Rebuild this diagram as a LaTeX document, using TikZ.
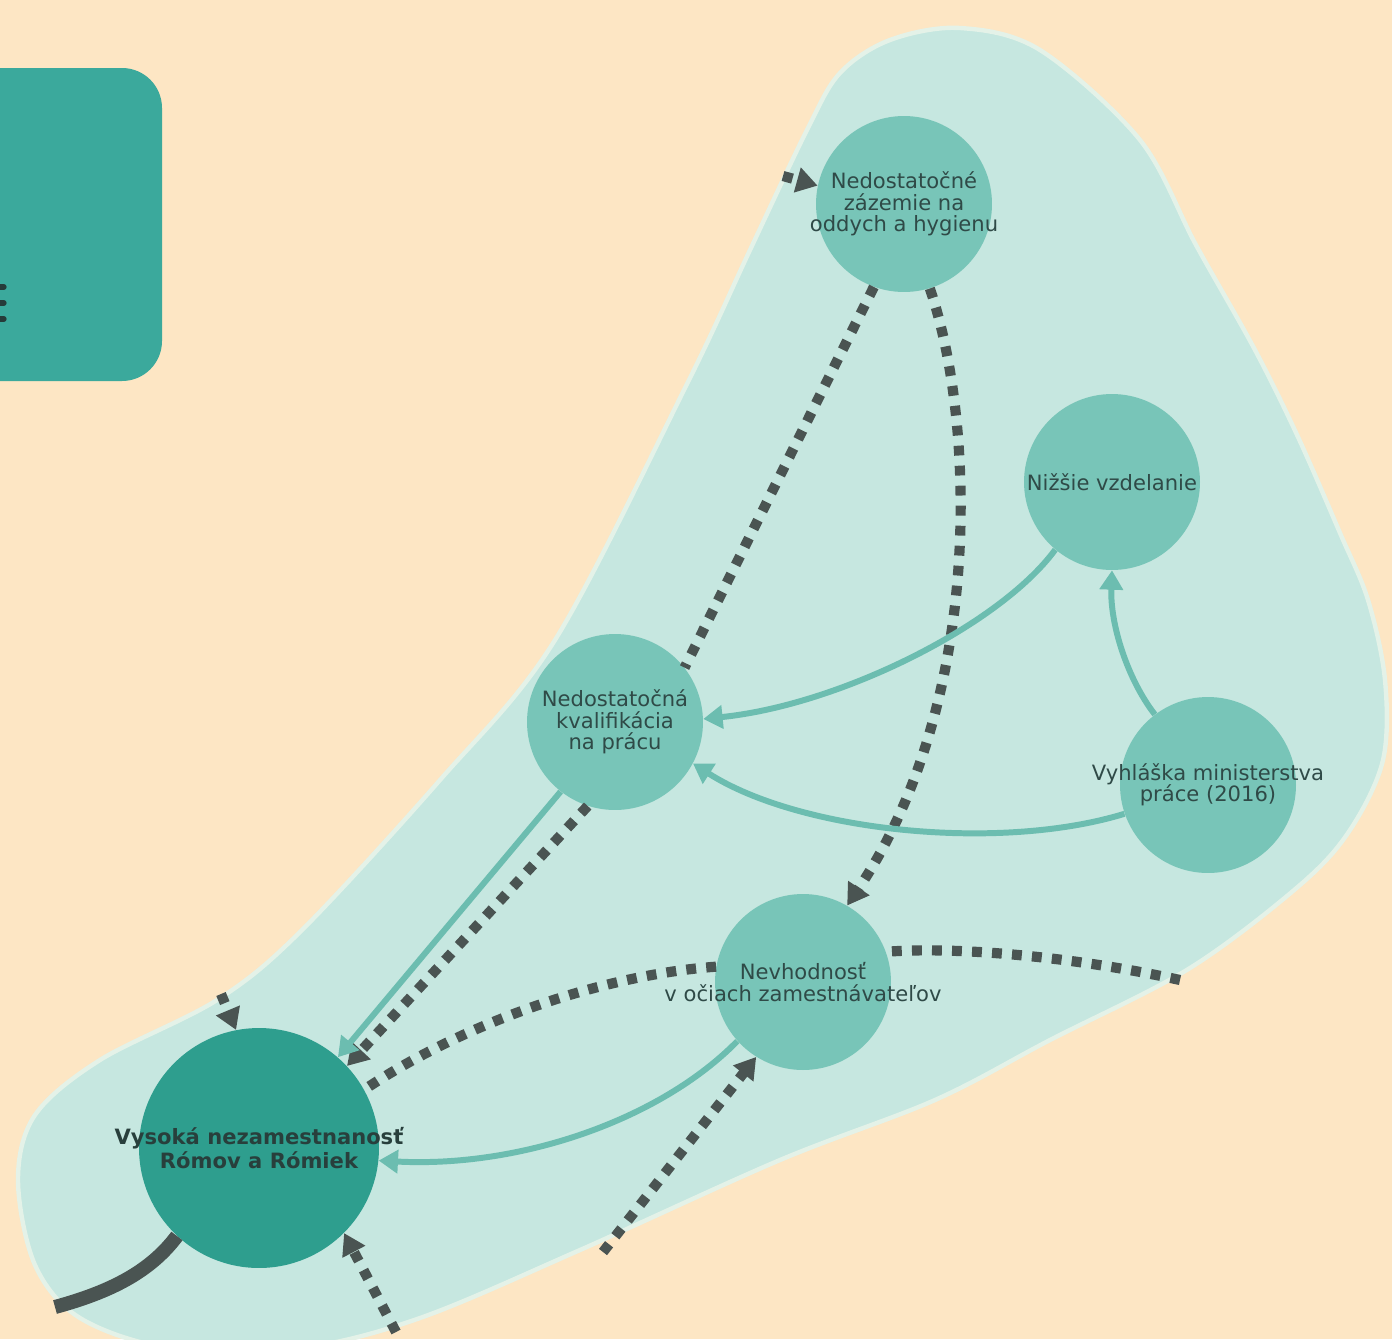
\documentclass[tikz,border=0pt]{standalone}
\usepackage{fontspec}
\setmainfont{DejaVu Sans}
\usetikzlibrary{arrows.meta}
\definecolor{peach}{HTML}{FDE6C4}
\definecolor{blob}{HTML}{C6E7E0}
\definecolor{blobedge}{HTML}{E4F2E8}
\definecolor{nodefill}{HTML}{78C5B8}
\definecolor{bignode}{HTML}{2E9E8E}
\definecolor{darkline}{HTML}{4A5452}
\definecolor{tealline}{HTML}{6CBDB0}
\definecolor{boxfill}{HTML}{3BA99C}
\definecolor{txt}{HTML}{2F4A47}
\tikzset{
  factor/.style={circle, fill=nodefill, minimum size=3.52cm, inner sep=0pt,
    label={[align=center, text=txt, font=\fontsize{12}{12.2}\selectfont]center:#1}},
  mainfactor/.style={circle, fill=bignode, minimum size=4.8cm, inner sep=0pt,
    label={[align=center, text=txt!85!black, font=\bfseries\fontsize{12}{11.5}\selectfont]center:#1}},
  dotlink/.style={draw=darkline, line width=5.8pt, dash pattern=on 5.6pt off 5.8pt,
    -{Triangle[length=12pt,width=14pt]}},
  dotplain/.style={draw=darkline, line width=5.8pt, dash pattern=on 5.6pt off 5.8pt},
  teallink/.style={draw=tealline, line width=3.4pt, -{Triangle[length=11pt,width=13pt]}},
}
\begin{document}
\begin{tikzpicture}[x=0.02cm,y=-0.02cm]
\useasboundingbox (0,0) rectangle (1392,1339);
\fill[peach] (0,0) rectangle (1392,1339);
% top-left box
\fill[boxfill, rounded corners=0.8cm] (-60,68) rectangle (162,381);
\foreach \yy in {287,303,319}
  \draw[line width=3pt, line cap=round, draw=txt!80!black] (-6,\yy) -- (4,\yy);
% blob
\begin{scope}
\clip (0,0) rectangle (1392,1339);
\draw[fill=blob, draw=blobedge, line width=2.5pt] plot[smooth cycle, tension=0.55] coordinates {
 (807,130) (840,73) (890,40) (960,28) (1040,50) (1140,140) (1196,245) (1255,350)
 (1298,437) (1340,533) (1368,600) (1385,680) (1383,760) (1350,830) (1300,885)
 (1190,968) (1050,1040) (935,1100) (780,1160) (580,1250) (420,1318) (300,1348)
 (170,1348) (80,1318) (35,1265) (18,1180) (35,1115) (100,1060) (217,1000)
 (300,932) (440,780) (555,640) (686,386) (750,250)};
\end{scope}
% nodes
\node[factor={Nedostatočné\\zázemie na\\oddych a hygienu}] (n1) at (904,204) {};
\node[factor={Nižšie vzdelanie}] (n2) at (1112,482) {};
\node[factor={Nedostatočná\\kvalifikácia\\na prácu}] (n3) at (615,722) {};
\node[factor={Vyhláška ministerstva\\práce (2016)}] (n4) at (1208,785) {};
\node[factor={Nevhodnosť\\v očiach zamestnávateľov}] (n5) at (803,982) {};
\node[mainfactor={Vysoká nezamestnanosť\\Rómov a Rómiek}] (n6) at (259,1148) {};
% free ends
\coordinate (s1) at (783,176);
\coordinate (s2) at (1180,980);
\coordinate (s3) at (603,1252);
\coordinate (s4) at (396,1332);
\coordinate (s5) at (221,994);
\coordinate (s6) at (55,1307);
% dotted connectors
\draw[dotlink] (s1) -- (n1.168);
\draw[dotplain] (n1.-110) -- (n3.38);
\draw[dotlink] (n1.-73) .. controls (975,420) and (985,700) .. (n5.60);
\draw[dotlink] (n3.-108) -- (n6.43);
\draw[dotplain] (s2) .. controls (1080,958) and (960,946) .. (n5.20);
\draw[dotplain] (n5.170) .. controls (600,975) and (460,1025) .. (n6.29);
\draw[dotlink] (s3) -- (n5.-122);
\draw[dotlink] (s4) -- (n6.-45);
\draw[dotlink] (s5) -- (n6.101);
% teal connectors
\draw[teallink] (n2.-130) .. controls (1000,625) and (840,705) .. (n3.2);
\draw[teallink] (n4.127) .. controls (1128,680) and (1110,625) .. (n2.-90);
\draw[teallink] (n4.-161) .. controls (1000,852) and (800,832) .. (n3.-28);
\draw[teallink] (n3.-128) -- (n6.49);
\draw[teallink] (n5.-138) .. controls (660,1120) and (520,1168) .. (n6.-6);
% thick outgoing line
\draw[darkline, line width=8pt] (n6.-133) .. controls (150,1272) and (110,1292) .. (s6);
\end{tikzpicture}
\end{document}
